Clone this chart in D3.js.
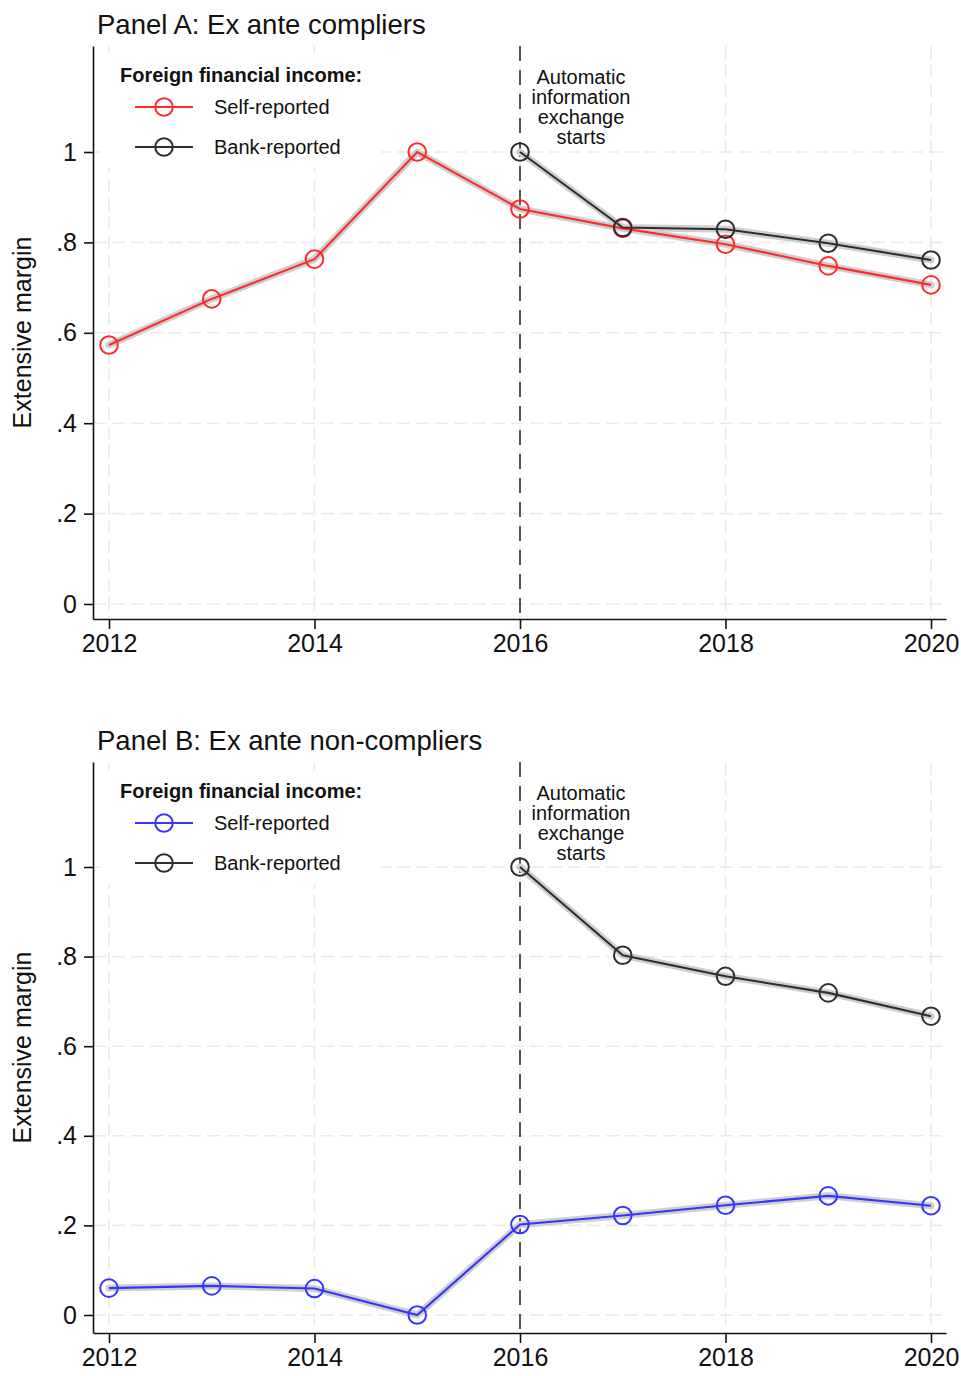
<!DOCTYPE html>
<html>
<head>
<meta charset="utf-8">
<script src="https://cdn.jsdelivr.net/npm/d3@7"></script>
<style>
  html, body { margin: 0; padding: 0; background: #fff; }
  svg { display: block; font-family: "Liberation Sans", Arial, Helvetica, sans-serif; }
</style>
</head>
<body>
<script>
// Years and extensive-margin series
const years = [2012, 2013, 2014, 2015, 2016, 2017, 2018, 2019, 2020];
const bankYears = [2016, 2017, 2018, 2019, 2020];

const selfCompliers = [0.573, 0.675, 0.763, 1.000, 0.874, 0.831, 0.796, 0.748, 0.706];
const bankCompliers = [1.000, 0.833, 0.829, 0.798, 0.761];

const selfNonCompliers = [0.060, 0.065, 0.059, 0.000, 0.202, 0.222, 0.245, 0.266, 0.244];
const bankNonCompliers = [1.000, 0.803, 0.756, 0.719, 0.667];

const xTicks = [2012, 2014, 2016, 2018, 2020];
const yTicks = [0, 0.2, 0.4, 0.6, 0.8, 1];
const yTickLabels = ["0", ".2", ".4", ".6", ".8", "1"];

const eventYear = 2016;
const eventLabel = ["Automatic", "information", "exchange", "starts"];
const legendTitle = "Foreign financial income:";
const seriesLabels = ["Self-reported", "Bank-reported"];
const yTitle = "Extensive margin";

const W = 961, H = 1376;
const plotLeft = 93, plotRight = 946;
const BLACK = "#2e2e2e";

const panels = [
  { title: "Panel A: Ex ante compliers", self: selfCompliers, bank: bankCompliers,
    color: "#ff2b2b", top: 46, bottom: 619, zeroY: 604, oneY: 152 },
  { title: "Panel B: Ex ante non-compliers", self: selfNonCompliers, bank: bankNonCompliers,
    color: "#3535ff", top: 762, bottom: 1333, zeroY: 1315, oneY: 867 }
];

const svg = d3.select("body").append("svg").attr("width", W).attr("height", H);

// x: data positions 2012..2020, axis runs slightly past both ends
const xBase = d3.scaleLinear().domain([2012, 2020]).range([109, 931]);
const x = d3.scaleLinear()
  .domain([xBase.invert(plotLeft), xBase.invert(plotRight)])
  .range([plotLeft, plotRight]);

panels.forEach(p => {
  const yBase = d3.scaleLinear().domain([0, 1]).range([p.zeroY, p.oneY]);
  const y = d3.scaleLinear()
    .domain([yBase.invert(p.bottom), yBase.invert(p.top)])
    .range([p.bottom, p.top]);

  const g = svg.append("g");

  // gridlines
  g.append("g").selectAll("line").data(yTicks).join("line")
    .attr("x1", plotLeft).attr("x2", plotRight)
    .attr("y1", d => y(d)).attr("y2", d => y(d))
    .attr("stroke", "#ebebeb").attr("stroke-width", 1.6)
    .attr("stroke-dasharray", "13,6");
  g.append("g").selectAll("line").data(xTicks).join("line")
    .attr("x1", d => x(d)).attr("x2", d => x(d))
    .attr("y1", p.top).attr("y2", p.bottom)
    .attr("stroke", "#ebebeb").attr("stroke-width", 1.6)
    .attr("stroke-dasharray", "13,6");

  // legend background masks the grid behind it
  g.append("rect")
    .attr("x", plotLeft + 8).attr("y", p.top + 8)
    .attr("width", 280).attr("height", 114)
    .attr("fill", "#fff");

  // event line
  g.append("line")
    .attr("x1", x(eventYear)).attr("x2", x(eventYear))
    .attr("y1", p.top).attr("y2", p.bottom)
    .attr("stroke", BLACK).attr("stroke-width", 1.6)
    .attr("stroke-dasharray", "15,9");

  // event annotation
  const ann = g.append("text")
    .attr("text-anchor", "middle").attr("font-size", 20).attr("fill", "#111");
  eventLabel.forEach((t, i) => {
    ann.append("tspan").attr("x", x(eventYear) + 61).attr("y", p.top + 38 + i * 20).text(t);
  });

  const selfPts = years.map((yr, i) => [yr, p.self[i]]);
  const bankPts = bankYears.map((yr, i) => [yr, p.bank[i]]);
  const line = d3.line().x(d => x(d[0])).y(d => y(d[1]));

  // shaded bands
  [selfPts, bankPts].forEach(pts => {
    g.append("path").attr("d", line(pts))
      .attr("fill", "none").attr("stroke", "#cfcfcf").attr("stroke-width", 7)
      .attr("stroke-linejoin", "round").attr("stroke-linecap", "round");
  });

  // series lines and hollow markers
  [[selfPts, p.color], [bankPts, BLACK]].forEach(([pts, col]) => {
    g.append("path").attr("d", line(pts))
      .attr("fill", "none").attr("stroke", col).attr("stroke-width", 2.1);
  });
  [[selfPts, p.color], [bankPts, BLACK]].forEach(([pts, col]) => {
    g.append("g").selectAll("circle").data(pts).join("circle")
      .attr("cx", d => x(d[0])).attr("cy", d => y(d[1])).attr("r", 8.8)
      .attr("fill", "none").attr("stroke", col).attr("stroke-width", 2);
  });

  // axes
  const yAxis = d3.axisLeft(y).tickValues(yTicks)
    .tickFormat((d, i) => yTickLabels[i]).tickSize(9).tickPadding(7).tickSizeOuter(0);
  const ya = g.append("g").attr("transform", `translate(${plotLeft},0)`).call(yAxis);
  ya.selectAll("text").attr("font-size", 25).attr("fill", "#111")
    .attr("font-family", "'Liberation Sans', Arial, sans-serif");

  const xAxis = d3.axisBottom(x).tickValues(xTicks).tickFormat(d3.format("d"))
    .tickSize(10).tickPadding(5).tickSizeOuter(0);
  const xa = g.append("g").attr("transform", `translate(0,${p.bottom})`).call(xAxis);
  xa.selectAll("text").attr("font-size", 25).attr("fill", "#111")
    .attr("font-family", "'Liberation Sans', Arial, sans-serif");

  [ya, xa].forEach(a => {
    a.select(".domain").attr("stroke", "#111").attr("stroke-width", 1.6);
    a.selectAll(".tick line").attr("stroke", "#111").attr("stroke-width", 1.6);
  });

  // y-axis title
  g.append("text")
    .attr("transform", `translate(31,${(p.top + p.bottom) / 2}) rotate(-90)`)
    .attr("text-anchor", "middle").attr("font-size", 25).attr("fill", "#111")
    .text(yTitle);

  // panel title
  g.append("text").attr("x", 97).attr("y", p.top - 12)
    .attr("font-size", 27.5).attr("fill", "#111").text(p.title);

  // legend
  const lg = g.append("g");
  lg.append("text").attr("x", 120).attr("y", p.top + 36)
    .attr("font-size", 20).attr("font-weight", "bold").attr("fill", "#111")
    .text(legendTitle);
  [p.color, BLACK].forEach((col, i) => {
    const cy = p.top + 61 + i * 40;
    lg.append("line").attr("x1", 135).attr("x2", 193).attr("y1", cy).attr("y2", cy)
      .attr("stroke", col).attr("stroke-width", 2);
    lg.append("circle").attr("cx", 164).attr("cy", cy).attr("r", 8.8)
      .attr("fill", "none").attr("stroke", col).attr("stroke-width", 2);
    lg.append("text").attr("x", 214).attr("y", cy + 7)
      .attr("font-size", 20).attr("fill", "#111").text(seriesLabels[i]);
  });
});
</script>
</body>
</html>
